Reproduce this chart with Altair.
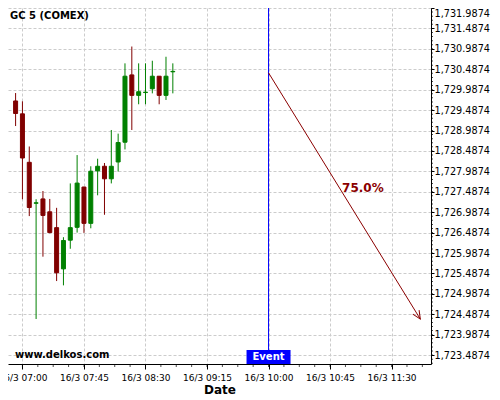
import altair as alt
import pandas as pd
import numpy as np

DAY = "2016-03-16"

# ---- candle data (5-minute bars) ----
times = ["06:55", "07:00", "07:05", "07:10", "07:15", "07:20", "07:25", "07:30",
         "07:35", "07:40", "07:45", "07:50", "07:55", "08:00", "08:05", "08:10",
         "08:15", "08:20", "08:25", "08:30", "08:35", "08:40", "08:45", "08:50"]
opens = [1729.711, 1729.396, 1728.209, 1727.207, 1727.312, 1726.997, 1726.609, 1725.599,
         1726.302, 1726.617, 1727.603, 1726.714, 1727.999, 1728.112, 1727.805, 1728.217,
         1728.701, 1730.349, 1729.848, 1729.917, 1730.010, 1730.317, 1729.848, 1730.425]
highs = [1729.905, 1729.703, 1728.596, 1727.304, 1727.506, 1727.312, 1727.094, 1726.375,
         1727.692, 1728.386, 1727.610, 1728.112, 1728.297, 1728.192, 1729.000, 1728.911,
         1730.632, 1731.044, 1730.632, 1730.632, 1730.696, 1730.317, 1730.794, 1730.632]
lows = [1729.097, 1727.304, 1726.892, 1724.372, 1725.898, 1726.472, 1725.301, 1725.196,
        1726.092, 1726.488, 1726.480, 1726.593, 1727.401, 1726.924, 1727.692, 1727.982,
        1728.524, 1729.000, 1729.630, 1729.630, 1729.897, 1729.630, 1729.735, 1729.897]
closes = [1729.404, 1728.314, 1727.102, 1727.217, 1726.908, 1726.488, 1725.503, 1726.294,
          1726.609, 1727.700, 1726.714, 1727.991, 1728.112, 1727.805, 1728.112, 1728.693,
          1730.317, 1729.848, 1729.937, 1729.927, 1730.317, 1729.848, 1730.317, 1730.435]

# ---- event / forecast arrow ----
event_time = "10:00"
arrow_times = ["10:00", "11:51"]
arrow_values = [1730.40, 1724.37]
arrow_label = "75.0%"
label_time = "11:09"
label_value = 1727.58

# ---- axis ticks ----
x_major_labels = ["07:00", "07:45", "08:30", "09:15", "10:00", "10:45", "11:30"]
y_major = [round(1723.4874 + 0.5 * k, 4) for k in range(18)]
x_domain = ["06:53:06", "11:55:10"]
y_domain = [1723.27, 1731.9874]


def ms(hhmm):
    return int(pd.Timestamp(f"{DAY} {hhmm}", tz="UTC").value // 10**6)


df = pd.DataFrame({
    "t": [ms(x) for x in times],
    "open": opens, "high": highs, "low": lows, "close": closes,
})
df["dir"] = np.where(df["close"] >= df["open"], "up", "down")

x_major = [ms(x) for x in x_major_labels]
x_minor = list(range(ms("07:00"), ms("11:55"), 675000))
y_minor = [round(1723.2874 + 0.1 * k, 4) for k in range(88)]
y_minor = [v for v in y_minor if y_domain[0] <= v <= y_domain[1]]

FONT = "DejaVu Sans"
xscale = alt.Scale(type="utc", domain=[ms(x_domain[0]), ms(x_domain[1])])
yscale = alt.Scale(domain=y_domain, zero=False, nice=False)
cscale = alt.Scale(domain=["up", "down"], range=["#008000", "#800000"])

x_axis = alt.Axis(
    values=x_major, tickCount=50,
    labelExpr="utcFormat(datum.value, '%-d/%-m %H:%M')",
    tickSize=5, labelPadding=4, labelFontSize=9, labelFlush=False, labelOverlap=False,
    grid=True, title="Date", titleFontSize=12, titleFontWeight="bold",
    titleBaseline="alphabetic", titleY=29.5,
)
y_axis = alt.Axis(
    orient="right", values=y_major, tickCount=50, format=",.4f", tickSize=3,
    labelPadding=0, labelFontSize=9.7, labelFlush=False, labelOverlap=False,
    labelBound=False,
    labelBaseline={"condition": {"test": "datum.value > 1731.9", "value": "top"},
                   "value": "middle"},
    grid=True, title=None,
)


def X(field):
    return alt.X(f"{field}:T", scale=xscale, title="Date")


def Y(field):
    return alt.Y(f"{field}:Q", scale=yscale, title=None)


base = alt.Chart(df)

wicks = base.mark_rule(strokeWidth=1).encode(
    x=alt.X("t:T", scale=xscale, axis=x_axis),
    y=alt.Y("low:Q", scale=yscale, axis=y_axis),
    y2="high:Q",
    color=alt.Color("dir:N", scale=cscale, legend=None),
)
bodies = base.mark_bar(width=4, strokeWidth=1).encode(
    x=X("t"), y=Y("open"), y2="close:Q",
    color=alt.Color("dir:N", scale=cscale, legend=None),
    stroke=alt.Stroke("dir:N", scale=cscale, legend=None),
)

ev_df = pd.DataFrame({"t": [ms(event_time)], "label": ["Event"]})
event_line = alt.Chart(ev_df).mark_rule(color="#0000ff", strokeWidth=1).encode(x=X("t"))
event_box = alt.Chart(ev_df).mark_bar(width=44, color="#0000ff").encode(
    x=X("t"), y=alt.value(342), y2=alt.value(356))
event_text = alt.Chart(ev_df).mark_text(
    color="white", fontWeight="bold", fontSize=10, font=FONT,
    align="center", baseline="alphabetic").encode(
    x=X("t"), y=alt.value(352), text="label:N")

ar_df = pd.DataFrame({"t0": [ms(arrow_times[0])], "t1": [ms(arrow_times[1])],
                      "v0": [arrow_values[0]], "v1": [arrow_values[1]]})
arrow_line = alt.Chart(ar_df).mark_rule(color="#8b0000", strokeWidth=1).encode(
    x=X("t0"), x2="t1:T", y=Y("v0"), y2="v1:Q")
arrow_head = alt.Chart(ar_df).mark_point(
    shape="M -0.45 1 L 0 0 L 0.45 1", angle=148, size=270, filled=False,
    color="#8b0000", strokeWidth=1, opacity=1).encode(x=X("t1"), y=Y("v1"))

lab_df = pd.DataFrame({"t": [ms(label_time)], "v": [label_value], "txt": [arrow_label]})
arrow_text = alt.Chart(lab_df).mark_text(
    color="#8b0000", fontWeight="bold", fontSize=12, font=FONT,
    align="center", baseline="middle").encode(x=X("t"), y=Y("v"), text="txt:N")

title_df = pd.DataFrame({"txt": ["GC 5 (COMEX)"]})
title_text = alt.Chart(title_df).mark_text(
    fontWeight="bold", fontSize=10, font=FONT, align="left", baseline="alphabetic",
    color="black").encode(x=alt.value(2), y=alt.value(11), text="txt:N")
site_df = pd.DataFrame({"txt": ["www.delkos.com"]})
site_text = alt.Chart(site_df).mark_text(
    fontWeight="bold", fontSize=10, font=FONT, align="left", baseline="alphabetic",
    color="black").encode(x=alt.value(7), y=alt.value(350), text="txt:N")

xm_df = pd.DataFrame({"t": x_minor})
x_minor_ticks = alt.Chart(xm_df).mark_tick(size=3, thickness=1, color="black").encode(
    x=X("t"), y=alt.value(357.5))
ym_df = pd.DataFrame({"v": y_minor})
y_minor_ticks = alt.Chart(ym_df).mark_tick(size=2, thickness=1, color="black").encode(
    y=Y("v"), x=alt.value(424))

chart = alt.layer(
    wicks, bodies, event_line, arrow_line, arrow_head, arrow_text,
    event_box, event_text, title_text, site_text, x_minor_ticks, y_minor_ticks,
).properties(
    width=423, height=356,
    autosize=alt.AutoSizeParams(type="none"),
    padding={"left": 0, "top": 0, "right": 61, "bottom": 36},
    background="white",
).configure_view(stroke=None).configure_axis(
    domainColor="black", tickColor="black", labelColor="black", titleColor="black",
    gridColor="#cccccc", gridDash=[3, 2], gridWidth=1,
    labelFont=FONT, titleFont=FONT, labelOverlap=False,
)

chart.save("out.html", embed_options={"renderer": "svg", "actions": False})
